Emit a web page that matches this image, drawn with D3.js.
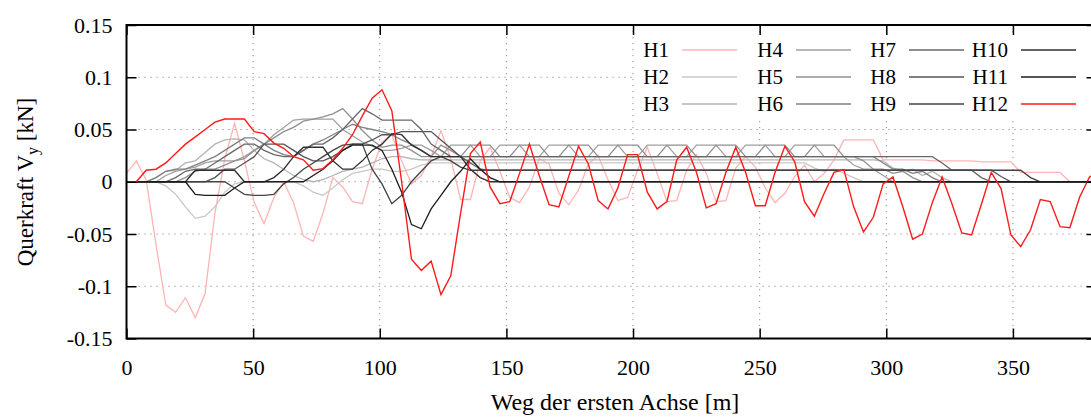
<!DOCTYPE html>
<html>
<head>
<meta charset="utf-8">
<script src="https://cdnjs.cloudflare.com/ajax/libs/d3/7.8.5/d3.min.js"></script>
<style>
body { margin: 0; background: #fff; }
svg { display: block; font-family: "Liberation Serif", "DejaVu Serif", serif; }
</style>
</head>
<body>
<svg id="chart" width="1091" height="417"></svg>
<script>
// weg der ersten achse [m]
let weg = [0, 3.88, 7.76, 11.64, 15.52, 19.4, 23.28, 27.16, 31.04, 34.92,
  38.8, 42.68, 46.56, 50.44, 54.32, 58.2, 62.08, 65.96, 69.84, 73.72,
  77.6, 81.48, 85.36, 89.24, 93.12, 97, 100.88, 104.76, 108.64, 112.52,
  116.4, 120.28, 124.16, 128.04, 131.92, 135.8, 139.68, 143.56, 147.44, 151.32,
  155.2, 159.08, 162.96, 166.84, 170.72, 174.6, 178.48, 182.36, 186.24, 190.12,
  194, 197.88, 201.76, 205.64, 209.52, 213.4, 217.28, 221.16, 225.04, 228.92,
  232.8, 236.68, 240.56, 244.44, 248.32, 252.2, 256.08, 259.96, 263.84, 267.72,
  271.6, 275.48, 279.36, 283.24, 287.12, 291, 294.88, 298.76, 302.64, 306.52,
  310.4, 314.28, 318.16, 322.04, 325.92, 329.8, 333.68, 337.56, 341.44, 345.32,
  349.2, 353.08, 356.96, 360.84, 364.72, 368.6, 372.48, 376.36, 380.24, 384.12];

let H1 = [0.008, 0.02, 0.002, -0.06, -0.118, -0.125, -0.111, -0.13, -0.107, -0.03,
  0.022, 0.056, 0.02, -0.02, -0.04, -0.015, 0, -0.02, -0.052, -0.057,
  -0.03, 0.004, -0.005, -0.019, -0.021, 0.012, 0.038, 0.045, 0.02, -0.002,
  0.006, 0.024, 0.049, 0.022, -0.017, -0.017, 0.02, 0.033, 0.01, -0.015,
  -0.02, -0.005, 0.022, 0.017, -0.011, -0.022, -0.008, 0.017, 0.025, 0.002,
  -0.018, -0.015, 0.011, 0.033, 0.008, -0.019, -0.018, 0.011, 0.026, 0.008,
  -0.019, -0.018, 0.013, 0.024, 0.014, -0.006, -0.02, -0.011, 0.005, 0.016,
  0, 0.008, 0.021, 0.04, 0.04, 0.04, 0.04, 0.021, 0.021, 0.021,
  0.021, 0.021, 0.02, 0.02, 0.02, 0.02, 0.02, 0.019, 0.019, 0.019,
  0.019, 0.009, 0.009, 0.009, 0.009, 0.009, 0, 0, 0, 0];

let H2 = [0, 0, 0, 0, -0.004, -0.012, -0.024, -0.035, -0.033, -0.024,
  -0.01, -0.002, 0, 0, 0, 0, 0, 0, -0.004, -0.01,
  -0.013, -0.006, 0.002, 0.008, 0.01, 0.012, 0.012, 0.01, 0.01, 0.012,
  0.016, 0.018, 0.018, 0.018, 0.018, 0.018, 0.018, 0.018, 0.018, 0.018,
  0.018, 0.018, 0.018, 0.018, 0.018, 0.018, 0.018, 0.018, 0.018, 0.018,
  0.018, 0.018, 0.018, 0.018, 0.018, 0.018, 0.018, 0.018, 0.018, 0.018,
  0.018, 0.018, 0.018, 0.018, 0.018, 0.018, 0.018, 0.018, 0.018, 0.018,
  0.013, 0.01, 0.012, 0.008, 0.004, 0, 0, 0, 0, 0,
  0, 0, 0, 0, 0, 0, 0, 0, 0, 0,
  0, 0, 0, 0, 0, 0, 0, 0, 0, 0];

let H3 = [0, 0, 0, 0.004, 0.01, 0.011, 0.018, 0.02, 0.028, 0.036,
  0.04, 0.041, 0.04, 0.03, 0.022, 0.018, 0.012, 0.006, 0.002, 0,
  0.002, 0.006, 0.01, 0.012, 0.014, 0.018, 0.022, 0.024, 0.024, 0.022,
  0.021, 0.021, 0.021, 0.021, 0.021, 0.021, 0.021, 0.021, 0.021, 0.021,
  0.021, 0.021, 0.021, 0.021, 0.021, 0.021, 0.021, 0.021, 0.021, 0.021,
  0.021, 0.021, 0.021, 0.021, 0.021, 0.021, 0.021, 0.021, 0.021, 0.021,
  0.021, 0.021, 0.021, 0.021, 0.021, 0.021, 0.021, 0.021, 0.021, 0.021,
  0.021, 0.021, 0.021, 0.021, 0.021, 0.021, 0.021, 0.02, 0.013, 0.01,
  0.012, 0.006, 0.01, 0.004, 0, 0, 0, 0, 0, 0,
  0, 0, 0, 0, 0, 0, 0, 0, 0, 0];

let H4 = [0, 0, 0, 0, 0.006, 0.01, 0.012, 0.014, 0.018, 0.02,
  0.02, 0.02, 0.024, 0.03, 0.036, 0.045, 0.052, 0.059, 0.06, 0.06,
  0.06, 0.06, 0.05, 0.044, 0.038, 0.034, 0.03, 0.03, 0.032, 0.035,
  0.035, 0.03, 0.024, 0.035, 0.035, 0.035, 0.024, 0.024, 0.035, 0.035,
  0.035, 0.024, 0.024, 0.035, 0.035, 0.035, 0.024, 0.024, 0.035, 0.035,
  0.035, 0.024, 0.024, 0.035, 0.035, 0.035, 0.024, 0.024, 0.035, 0.035,
  0.035, 0.024, 0.024, 0.035, 0.035, 0.035, 0.024, 0.024, 0.035, 0.035,
  0.035, 0.024, 0.024, 0.024, 0.016, 0.012, 0.012, 0.006, 0, 0,
  0, 0, 0, 0, 0, 0, 0, 0, 0, 0,
  0, 0, 0, 0, 0, 0, 0, 0, 0, 0];

let H5 = [0, 0, 0, 0, 0, 0, 0.004, 0.01, 0.012, 0.012,
  0.016, 0.02, 0.022, 0.03, 0.036, 0.042, 0.048, 0.052, 0.058, 0.06,
  0.062, 0.065, 0.07, 0.06, 0.049, 0.04, 0.033, 0.035, 0.035, 0.03,
  0.024, 0.024, 0.035, 0.03, 0.024, 0.035, 0.035, 0.035, 0.024, 0.024,
  0.035, 0.035, 0.035, 0.024, 0.024, 0.035, 0.035, 0.035, 0.024, 0.024,
  0.035, 0.035, 0.035, 0.024, 0.024, 0.035, 0.035, 0.035, 0.024, 0.024,
  0.035, 0.035, 0.035, 0.024, 0.024, 0.035, 0.035, 0.035, 0.024, 0.024,
  0.035, 0.035, 0.035, 0.024, 0.024, 0.02, 0.012, 0.012, 0.008, 0.01,
  0.004, 0, 0, 0, 0, 0, 0, 0, 0, 0,
  0, 0, 0, 0, 0, 0, 0, 0, 0, 0];

let H6 = [0, 0, 0, 0.004, 0.01, 0.012, 0.012, 0.016, 0.02, 0.024,
  0.03, 0.036, 0.042, 0.042, 0.036, 0.03, 0.026, 0.024, 0.03, 0.036,
  0.04, 0.045, 0.05, 0.055, 0.052, 0.05, 0.048, 0.045, 0.04, 0.036,
  0.03, 0.024, 0.024, 0.024, 0.024, 0.024, 0.024, 0.024, 0.024, 0.024,
  0.024, 0.024, 0.024, 0.024, 0.024, 0.024, 0.024, 0.024, 0.024, 0.024,
  0.024, 0.024, 0.024, 0.024, 0.024, 0.024, 0.024, 0.024, 0.024, 0.024,
  0.024, 0.024, 0.024, 0.024, 0.024, 0.024, 0.024, 0.024, 0.024, 0.024,
  0.024, 0.024, 0.024, 0.024, 0.024, 0.024, 0.024, 0.018, 0.012, 0.012,
  0.008, 0.01, 0.004, 0, 0, 0, 0, 0, 0, 0,
  0, 0, 0, 0, 0, 0, 0, 0, 0, 0];

let H7 = [0, 0, 0, 0, 0, 0.004, 0.01, 0.012, 0.012, 0.018,
  0.024, 0.03, 0.036, 0.036, 0.03, 0.026, 0.024, 0.024, 0.03, 0.036,
  0.036, 0.042, 0.05, 0.06, 0.07, 0.065, 0.059, 0.059, 0.059, 0.059,
  0.05, 0.036, 0.03, 0.024, 0.024, 0.024, 0.024, 0.024, 0.024, 0.024,
  0.024, 0.024, 0.024, 0.024, 0.024, 0.024, 0.024, 0.024, 0.024, 0.024,
  0.024, 0.024, 0.024, 0.024, 0.024, 0.024, 0.024, 0.024, 0.024, 0.024,
  0.024, 0.024, 0.024, 0.024, 0.024, 0.024, 0.024, 0.024, 0.024, 0.024,
  0.024, 0.024, 0.024, 0.024, 0.024, 0.024, 0.024, 0.024, 0.024, 0.024,
  0.024, 0.024, 0.024, 0.018, 0.011, 0.011, 0.011, 0.004, 0, 0,
  0, 0, 0, 0, 0, 0, 0, 0, 0, 0];

let H8 = [0, 0, 0, 0, 0, 0, 0, 0, 0, 0.004,
  0.012, 0.012, 0.018, 0.024, 0.036, 0.036, 0.036, 0.03, 0.024, 0.02,
  0.02, 0.024, 0.03, 0.036, 0.036, 0.04, 0.045, 0.045, 0.048, 0.048,
  0.048, 0.048, 0.04, 0.032, 0.024, 0.018, 0.012, 0.011, 0.011, 0.011,
  0.011, 0.011, 0.011, 0.011, 0.011, 0.011, 0.011, 0.011, 0.011, 0.011,
  0.011, 0.011, 0.011, 0.011, 0.011, 0.011, 0.011, 0.011, 0.011, 0.011,
  0.011, 0.011, 0.011, 0.011, 0.011, 0.011, 0.011, 0.011, 0.011, 0.011,
  0.011, 0.011, 0.011, 0.011, 0.011, 0.011, 0.011, 0.011, 0.011, 0.011,
  0.011, 0.011, 0.011, 0.011, 0.011, 0.011, 0.011, 0.011, 0.011, 0.005,
  0, 0, 0, 0, 0, 0, 0, 0, 0, 0];

let H9 = [0, 0, 0, 0, 0, 0, 0, 0, 0, 0,
  0, -0.006, -0.012, -0.013, -0.013, -0.012, -0.002, 0.004, 0.012, 0.018,
  0.024, 0.03, 0.035, 0.036, 0.036, 0.012, -0.002, -0.021, -0.013, 0,
  0.01, 0.02, 0.024, 0.02, 0.014, 0.011, 0.011, 0.011, 0.011, 0.011,
  0.011, 0.011, 0.011, 0.011, 0.011, 0.011, 0.011, 0.011, 0.011, 0.011,
  0.011, 0.011, 0.011, 0.011, 0.011, 0.011, 0.011, 0.011, 0.011, 0.011,
  0.011, 0.011, 0.011, 0.011, 0.011, 0.011, 0.011, 0.011, 0.011, 0.011,
  0.011, 0.011, 0.011, 0.011, 0.011, 0.011, 0.011, 0.011, 0.011, 0.011,
  0.011, 0.011, 0.011, 0.011, 0.011, 0.011, 0.011, 0.011, 0.011, 0.011,
  0.011, 0.011, 0.004, 0, 0, 0, 0, 0, 0, 0];

let H10 = [0, 0, 0, 0, 0, 0, 0, 0.011, 0.011, 0.011,
  0.011, 0.011, 0, 0, 0, 0.004, 0.012, 0.024, 0.033, 0.033,
  0.033, 0.02, 0.012, 0.012, 0.02, 0.03, 0.036, 0.046, 0.045, 0.035,
  0.03, 0.024, 0.024, 0.024, 0.024, 0.012, 0.004, 0, 0, 0,
  0, 0, 0, 0, 0, 0, 0, 0, 0, 0,
  0, 0, 0, 0, 0, 0, 0, 0, 0, 0,
  0, 0, 0, 0, 0, 0, 0, 0, 0, 0,
  0, 0, 0, 0, 0, 0, 0, 0, 0, 0,
  0, 0, 0, 0, 0, 0, 0, 0, 0, 0,
  0, 0, 0, 0, 0, 0, 0, 0, 0, 0];

let H11 = [0, 0, 0, 0, 0, 0, 0, -0.012, -0.013, -0.013,
  -0.013, -0.006, 0, 0, 0, 0, 0, 0, 0, 0.006,
  0.012, 0.02, 0.03, 0.035, 0.035, 0.035, 0.03, 0.012, -0.01, -0.041,
  -0.045, -0.026, -0.013, 0, 0.01, 0.022, 0.012, 0.004, 0, 0,
  0, 0, 0, 0, 0, 0, 0, 0, 0, 0,
  0, 0, 0, 0, 0, 0, 0, 0, 0, 0,
  0, 0, 0, 0, 0, 0, 0, 0, 0, 0,
  0, 0, 0, 0, 0, 0, 0, 0, 0, 0,
  0, 0, 0, 0, 0, 0, 0, 0, 0, 0,
  0, 0, 0, 0, 0, 0, 0, 0, 0, 0];

let H12 = [0, 0, 0.011, 0.012, 0.018, 0.027, 0.036, 0.043, 0.05, 0.057,
  0.06, 0.06, 0.06, 0.048, 0.046, 0.037, 0.032, 0.024, 0.021, 0.011,
  0.0126, 0.021, 0.032, 0.045, 0.063, 0.08, 0.088, 0.068, 0, -0.074,
  -0.085, -0.076, -0.108, -0.09, -0.03, 0.027, 0.038, -0.005, -0.021, -0.019,
  0.008, 0.036, 0.006, -0.022, -0.024, 0.005, 0.034, 0.017, -0.018, -0.026,
  -0.006, 0.026, 0.026, -0.01, -0.026, -0.019, 0.021, 0.033, 0.009, -0.025,
  -0.021, 0.009, 0.033, 0.009, -0.023, -0.023, 0.009, 0.034, 0.019, -0.019,
  -0.033, -0.011, 0.009, 0.0117, -0.024, -0.048, -0.034, -0.002, 0.0046, -0.024,
  -0.055, -0.05, -0.02, 0.0046, -0.021, -0.049, -0.051, -0.0216, 0.009, -0.0065,
  -0.051, -0.062, -0.046, -0.017, -0.019, -0.043, -0.044, -0.0146, 0.0046, 0.01];

let seriesNames = ["H1", "H2", "H3", "H4", "H5", "H6", "H7", "H8", "H9", "H10", "H11", "H12"];
let seriesValues = [H1, H2, H3, H4, H5, H6, H7, H8, H9, H10, H11, H12];
let seriesColors = ["#ffb4b4", "#c8c8c8", "#b4b4b4", "#a0a0a0", "#909090", "#808080",
  "#686868", "#555555", "#444444", "#303030", "#1c1c1c", "#ff1a1a"];

let xTicks = [0, 50, 100, 150, 200, 250, 300, 350];
let yTicks = [-0.15, -0.1, -0.05, 0, 0.05, 0.1, 0.15];
let yTickLabels = ["-0.15", "-0.1", "-0.05", "0", "0.05", "0.1", "0.15"];

function drawChart(svgId)
{
    let svg = d3.select("#" + svgId);
    let left = 126.5, right = 1096.5, top = 25, bottom = 338.5; // plot frame

    let xScale = d3.scaleLinear().domain([0, 383]).range([left, right]);
    let yScale = d3.scaleLinear().domain([-0.15, 0.15]).range([bottom, top]);

    svg.append("defs").append("clipPath").attr("id", "plotclip")
        .append("rect")
        .attr("x", left).attr("y", top)
        .attr("width", right - left).attr("height", bottom - top);

    // dotted grid
    let grid = svg.append("g");
    grid.selectAll(".gx")
        .data(xTicks.filter(d => d > 0))
        .enter().append("line")
        .attr("x1", d => xScale(d)).attr("x2", d => xScale(d))
        .attr("y1", top).attr("y2", bottom)
        .attr("stroke", "#8a8a8a").attr("stroke-width", 1)
        .attr("stroke-dasharray", "1.2,4.8");
    grid.selectAll(".gy")
        .data(yTicks.filter(d => d > -0.15 && d < 0.15))
        .enter().append("line")
        .attr("x1", left).attr("x2", right)
        .attr("y1", d => yScale(d)).attr("y2", d => yScale(d))
        .attr("stroke", "#8a8a8a").attr("stroke-width", 1)
        .attr("stroke-dasharray", "1.2,4.8");

    // legend background (opaque key)
    svg.append("rect")
        .attr("x", 634).attr("y", 36)
        .attr("width", 470).attr("height", 82)
        .attr("fill", "#fff");

    // series lines
    let line = d3.line()
        .x((d, i) => xScale(weg[i]))
        .y(d => yScale(d));

    let lines = svg.append("g").attr("clip-path", "url(#plotclip)");
    lines.selectAll(".series")
        .data(seriesValues)
        .enter()
        .append("path")
        .attr("class", "series")
        .attr("fill", "none")
        .attr("stroke", (d, i) => seriesColors[i])
        .attr("stroke-width", (d, i) => i == 11 ? 1.4 : 1.3)
        .attr("d", d => line(d));

    // legend entries, three rows per column
    let legend = svg.append("g");
    let colText = [669, 783, 896, 1008];
    let rowY = [50, 77, 104];
    seriesNames.forEach(function(name, i) {
        let c = Math.floor(i / 3), r = i % 3;
        legend.append("text")
            .attr("x", colText[c]).attr("y", rowY[r] + 7)
            .attr("text-anchor", "end")
            .attr("font-size", 21)
            .text(name);
        legend.append("line")
            .attr("x1", colText[c] + 13).attr("x2", colText[c] + 68)
            .attr("y1", rowY[r]).attr("y2", rowY[r])
            .attr("stroke", seriesColors[i]).attr("stroke-width", 1.3);
    });

    // axes with inward ticks
    let xAxis = d3.axisBottom(xScale).tickValues(xTicks).tickSize(-10).tickPadding(21).tickFormat(d3.format("d"));
    let yAxis = d3.axisLeft(yScale).tickValues(yTicks).tickSize(-10).tickPadding(14)
        .tickFormat((d, i) => yTickLabels[i]);
    let xTop = d3.axisTop(xScale).tickValues(xTicks).tickSize(-10).tickFormat("");
    let yRight = d3.axisRight(yScale).tickValues(yTicks).tickSize(-10).tickFormat("");

    let gx = svg.append("g").attr("transform", "translate(0," + bottom + ")").call(xAxis);
    let gy = svg.append("g").attr("transform", "translate(" + left + ",0)").call(yAxis);
    let gt = svg.append("g").attr("transform", "translate(0," + top + ")").call(xTop);
    let gr = svg.append("g").attr("transform", "translate(" + right + ",0)").call(yRight);

    [gx, gy, gt, gr].forEach(function(g) {
        g.select(".domain").remove();
        g.selectAll(".tick line").attr("stroke", "#000").attr("stroke-width", 1.5);
        g.selectAll(".tick text").attr("fill", "#000").attr("font-size", 22)
            .attr("font-family", "Liberation Serif, DejaVu Serif, serif");
    });

    // frame
    svg.append("rect")
        .attr("x", left).attr("y", top)
        .attr("width", right - left).attr("height", bottom - top)
        .attr("fill", "none").attr("stroke", "#000").attr("stroke-width", 2);

    // axis titles
    svg.append("text")
        .attr("x", 615).attr("y", 410)
        .attr("text-anchor", "middle")
        .attr("font-size", 24)
        .text("Weg der ersten Achse [m]");

    let ylab = svg.append("text")
        .attr("transform", "translate(33,182) rotate(-90)")
        .attr("text-anchor", "middle")
        .attr("font-size", 23);
    ylab.append("tspan").text("Querkraft V");
    ylab.append("tspan").attr("font-size", 16).attr("dy", 5).text("y");
    ylab.append("tspan").attr("dy", -5).text(" [kN]");
}

drawChart("chart");
</script>
</body>
</html>
